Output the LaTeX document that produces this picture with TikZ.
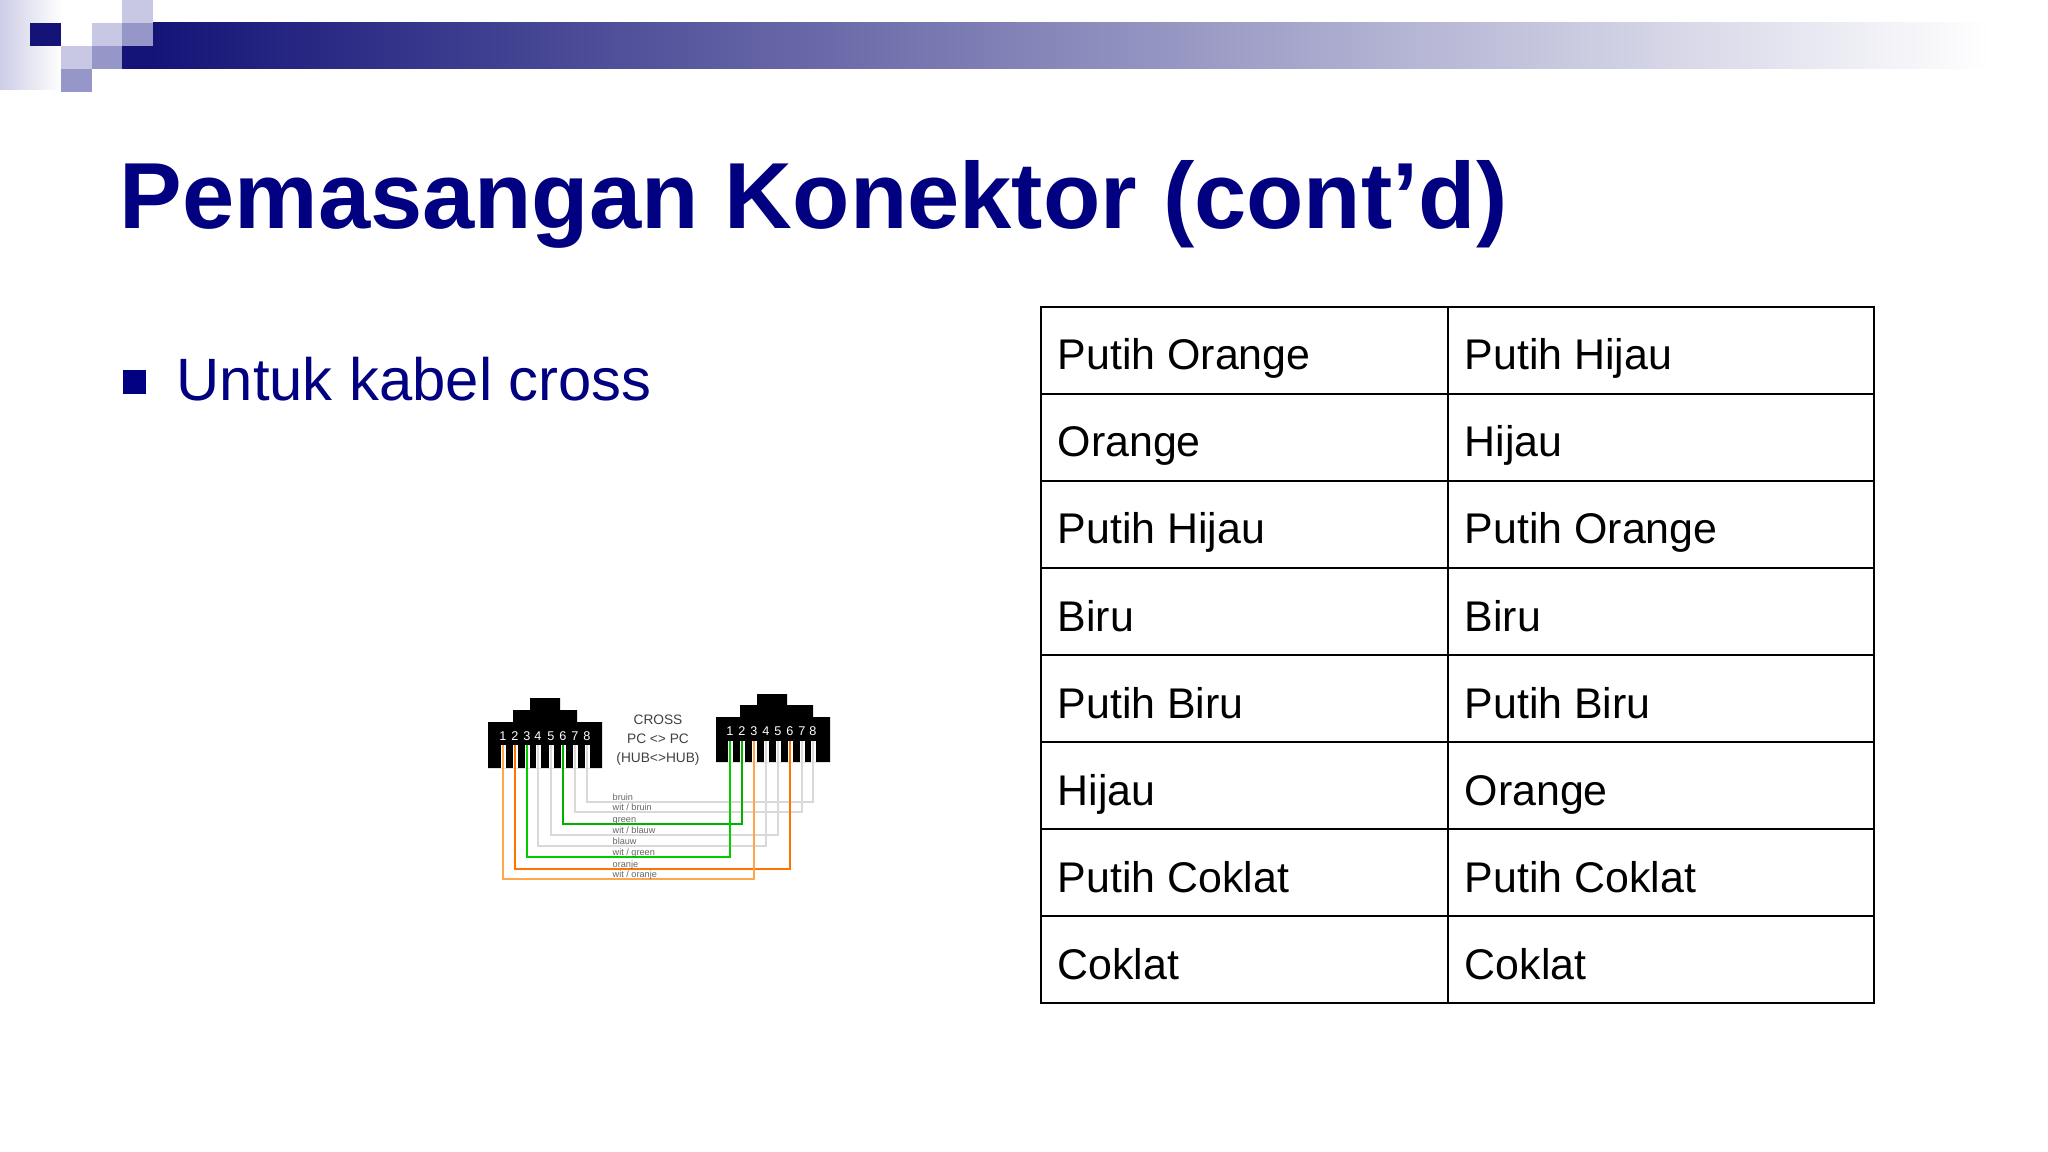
\documentclass[tikz,border=0pt]{standalone}
\usepackage{fontspec}
\setmainfont{Liberation Sans}
\begin{document}
\begin{tikzpicture}[x=0.01cm,y=-0.01cm,
  navyc/.style={fill={rgb,255:red,20;green,20;blue,120}},
  lightc/.style={fill={rgb,255:red,200;green,200;blue,228}},
  medc/.style={fill={rgb,255:red,150;green,150;blue,200}},
  cell/.style={anchor=base west,font=\fontsize{12.2}{14}\selectfont,inner sep=0},
  pinnum/.style={text=white,font=\fontsize{3.6}{4}\selectfont,inner sep=0},
  wl/.style={font=\fontsize{2.6}{3}\selectfont,inner sep=0,anchor=base west,text=black!60},
  wire/.style={line width=0.6pt}]
\useasboundingbox (0,0) rectangle (2048,1152);
\fill[white] (0,0) rectangle (2048,1152);
% decoration
\shade[left color={rgb,255:red,205;green,205;blue,230},right color=white] (0,0) rectangle (62,90);
\shade[left color={rgb,255:red,20;green,20;blue,120},right color=white] (153,23) rectangle (1990,69);
\fill[navyc] (30,23) rectangle (61,46);
\fill[lightc] (61,46) rectangle (92,69);
\fill[medc] (61,69) rectangle (92,92);
\fill[lightc] (92,23) rectangle (122,46);
\fill[medc] (92,46) rectangle (122,69);
\fill[lightc] (122,0) rectangle (153,23);
\fill[medc] (122,23) rectangle (153,46);
\fill[navyc] (122,46) rectangle (155,69);
% title
\node[anchor=base west,inner sep=0,text={rgb,255:red,0;green,0;blue,128},font=\fontsize{26.7}{30}\selectfont\bfseries] (title) at (119,229) {Pemasangan Konektor (cont’d)};
\fill[fill={rgb,255:red,0;green,0;blue,128}] (123,370) rectangle (146,394);
\node[anchor=base west,inner sep=0,text={rgb,255:red,0;green,0;blue,128},font=\fontsize{17}{20}\selectfont] (bullet) at (176,401) {Untuk kabel cross};
% table
\draw[line width=0.7pt] (1041,307) rectangle (1874,1003);
\draw[line width=0.7pt] (1448,307) -- (1448,1003);
\foreach \i in {1,...,7} \draw[line width=0.7pt] (1041,307+87*\i) -- (1874,307+87*\i);
\foreach \a/\b [count=\i from 0] in {Putih Orange/Putih Hijau,Orange/Hijau,Putih Hijau/Putih Orange,Biru/Biru,Putih Biru/Putih Biru,Hijau/Orange,Putih Coklat/Putih Coklat,Coklat/Coklat}{
  \node[cell] (l\i) at (1057,370+87*\i) {\a};
  \node[cell] (r\i) at (1464,370+87*\i) {\b};
}
% connectors
\fill[black] (530,698) rectangle (560,711) (513,710) rectangle (577,723) (488,722) rectangle (602,768);
\fill[black] (757,694) rectangle (787,706) (740,705) rectangle (813,718) (716,717) rectangle (830,762);
\foreach \x [count=\n] in {503,515,527,538,551,563,575,587}{
  \node[pinnum] (ln\n) at (\x,736) {\n};
  \coordinate (L\n) at (\x,745);
  \fill[white] (\x-2.5,745) rectangle (\x+2.5,768);
}
\foreach \x [count=\n] in {730,742,754,766,778,790,802,813}{
  \node[pinnum] (rn\n) at (\x,731) {\n};
  \coordinate (R\n) at (\x,741);
  \fill[white] (\x-2.5,741) rectangle (\x+2.5,762);
}
\node[font=\fontsize{3.9}{4.5}\selectfont,inner sep=0,align=center,text=black!75] (lab) at (658,740) {CROSS\\[1pt]PC <> PC\\[1pt](HUB<>HUB)};
\foreach \a/\b/\y/\c/\t in {8/8/802/black!15/{bruin},7/7/812/black!15/{wit / bruin},6/2/824/green!70!black/{green},5/5/835/black!15/{wit / blauw},4/4/846/black!15/{blauw},3/1/857/green!80!black/{wit / green},2/6/869/orange!90!red/{oranje},1/3/879/orange!70/{wit / oranje}}{
  \draw[wire,draw=\c] (L\a) |- (700,\y) -| (R\b);
  \node[wl] at (612,\y-1.5) {\t};
}
\end{tikzpicture}
\end{document}
